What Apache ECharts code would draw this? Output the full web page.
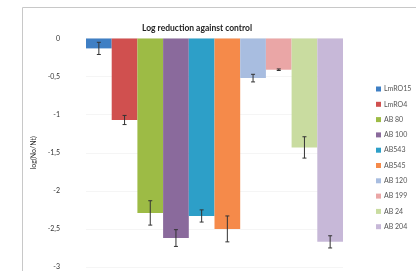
<!DOCTYPE html>
<html>
<head>
<meta charset="utf-8">
<script src="https://cdn.jsdelivr.net/npm/echarts@6/dist/echarts.min.js"></script>
<style>
  html, body { margin: 0; padding: 0; background: #fff; }
  #main { width: 416px; height: 271px; }
</style>
</head>
<body>
<div id="main"></div>
<script>
// strains, log reduction and error bar half-widths
var strains = ['LmRO15', 'LmRO4', 'AB 80', 'AB 100', 'AB543', 'AB545', 'AB 120', 'AB 199', 'AB 24', 'AB 204'];
var logReduction = [-0.13, -1.07, -2.29, -2.62, -2.33, -2.50, -0.52, -0.41, -1.43, -2.67];
var errors = [0.08, 0.06, 0.16, 0.11, 0.08, 0.17, 0.05, 0.01, 0.14, 0.08];
var colors = ['#3f7fc4', '#d0504f', '#9dbb45', '#8a6a9c', '#2d9fc8', '#f58a4a',
              '#a8bde0', '#eaa6a6', '#c9dca0', '#c7b8d8'];

var chart = echarts.init(document.getElementById('main'));

var series = strains.map(function (name, i) {
    var d = strains.map(function (s, j) { return j === i ? logReduction[i] : '-'; });
    return {
        name: name,
        type: 'bar',
        stack: 'all',
        data: d,
        barCategoryGap: 0,
        itemStyle: { color: colors[i] }
    };
});

series.push({
    type: 'custom',
    name: 'err',
    z: 10,
    silent: true,
    data: logReduction.map(function (v, i) { return [i, v - errors[i], v + errors[i]]; }),
    renderItem: function (params, api) {
        var lo = api.coord([api.value(0), api.value(1)]);
        var hi = api.coord([api.value(0), api.value(2)]);
        var w = 2;
        var st = { stroke: '#333', lineWidth: 1 };
        return {
            type: 'group',
            children: [
                { type: 'line', shape: { x1: lo[0], y1: lo[1], x2: hi[0], y2: hi[1] }, style: st },
                { type: 'line', shape: { x1: lo[0] - w, y1: lo[1], x2: lo[0] + w, y2: lo[1] }, style: st },
                { type: 'line', shape: { x1: hi[0] - w, y1: hi[1], x2: hi[0] + w, y2: hi[1] }, style: st }
            ]
        };
    }
});

chart.setOption({
    animation: false,
    textStyle: { fontFamily: 'Lato' },
    title: {
        text: 'Log reduction against control',
        left: 192,
        textAlign: 'center',
        top: 19,
        textStyle: { fontSize: 8.5, fontWeight: 'bold', color: '#222', fontFamily: 'Lato' }
    },
    graphic: [{
        type: 'rect',
        shape: { x: 22.5, y: 7.5, width: 400, height: 280 },
        style: { fill: 'none', stroke: '#c8c8c8', lineWidth: 1 },
        silent: true
    }],
    legend: {
        data: strains,
        orient: 'vertical',
        left: 371,
        top: 80,
        itemWidth: 5,
        itemHeight: 5,
        itemGap: 7.3,
        icon: 'rect',
        textStyle: { fontSize: 7, color: '#555', lineHeight: 8, padding: [0, 0, 0, -2] }
    },
    grid: { left: 86, right: 73, top: 38.5, bottom: 4 },
    xAxis: {
        type: 'category',
        data: strains,
        position: 'top',
        axisLine: { show: false },
        axisTick: { show: false },
        axisLabel: { show: false }
    },
    yAxis: {
        type: 'value',
        min: -3,
        max: 0,
        interval: 0.5,
        name: 'log(No/Nt)',
        nameLocation: 'middle',
        nameGap: 49,
        nameRotate: 90,
        nameTextStyle: { fontSize: 7, color: '#333' },
        axisLine: { show: false },
        axisTick: { show: false },
        splitLine: { show: true, lineStyle: { color: '#f5f5f5' } },
        axisLabel: {
            margin: 26,
            fontSize: 7,
            color: '#333',
            formatter: function (v) { return String(v).replace('.', ','); }
        }
    },
    series: series
});
</script>
</body>
</html>
